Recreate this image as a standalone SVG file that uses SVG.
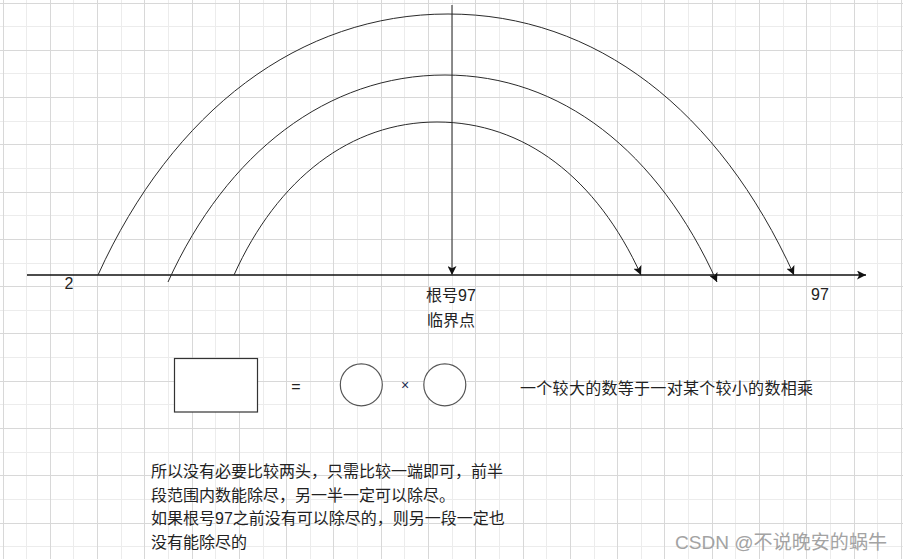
<svg xmlns="http://www.w3.org/2000/svg" width="903" height="559" viewBox="0 0 903 559">
<style>
.gd{stroke:#d8d8d8;stroke-width:1;fill:none}
.gl{stroke:#ececec;stroke-width:1;fill:none}
.t{font-family:"Liberation Sans","Noto Sans CJK SC",sans-serif;font-size:16px;fill:#222}
.arc{fill:none;stroke:#2a2a2a;stroke-width:1}
.ax{fill:none;stroke:#111;stroke-width:1.5}
.vx{fill:none;stroke:#444;stroke-width:1.2}
.shape{fill:#fff;stroke:#333;stroke-width:1.2}
.circ{fill:#fff;stroke:#555;stroke-width:1.2}
</style>
<defs>
<marker id="arr" viewBox="0 0 10 10" refX="10" refY="5" markerWidth="9" markerHeight="9" markerUnits="userSpaceOnUse" orient="auto">
<path d="M0,0 L10,5 L0,10 L2.5,5 Z" fill="#111"/>
</marker>
</defs>
<rect width="903" height="559" fill="#fff"/>
<g id="grid" shape-rendering="crispEdges">
<path class="gl" d="M26.64,0V559M73.92,0V559M121.2,0V559M168.48,0V559M215.76,0V559M263.04,0V559M310.32,0V559M357.6,0V559M404.88,0V559M452.16,0V559M499.44,0V559M546.72,0V559M594,0V559M641.28,0V559M688.56,0V559M735.84,0V559M783.12,0V559M830.4,0V559M877.68,0V559
M0,26.64H903M0,73.92H903M0,121.2H903M0,168.48H903M0,215.76H903M0,263.04H903M0,310.32H903M0,357.6H903M0,404.88H903M0,452.16H903M0,499.44H903M0,546.72H903"/>
<path class="gd" d="M3,0V559M50.28,0V559M97.56,0V559M144.84,0V559M192.12,0V559M239.4,0V559M286.68,0V559M333.96,0V559M381.24,0V559M428.52,0V559M475.8,0V559M523.08,0V559M570.36,0V559M617.64,0V559M664.92,0V559M712.2,0V559M759.48,0V559M806.76,0V559M854.04,0V559M901.32,0V559
M0,3H903M0,50.28H903M0,97.56H903M0,144.84H903M0,192.12H903M0,239.4H903M0,286.68H903M0,333.96H903M0,381.24H903M0,428.52H903M0,475.8H903M0,523.08H903"/>
</g>
<g id="connectors">
<path class="ax" d="M27,275 H866" marker-end="url(#arr)"/>
<path class="vx" d="M452,5 V275" marker-end="url(#arr)"/>
<path class="arc" d="M98,275 C173,110 300,14 448,14 C596,14 719,110 794,275" marker-end="url(#arr)"/>
<path class="arc" d="M168,282 C227,152 328,75 445,75 C561,75 658,151 717,282" marker-end="url(#arr)"/>
<path class="arc" d="M234,275 C277.5,178.3 351,122 437,122 C524,122 597,178 641,275" marker-end="url(#arr)"/>
</g>
<g id="label-2"><text class="t" x="69" y="289" text-anchor="middle">2</text></g>
<g id="label-root"><text class="t" x="451" y="301" text-anchor="middle">根号97</text><text class="t" x="451" y="326" text-anchor="middle">临界点</text></g>
<g id="label-97"><text class="t" x="820" y="300" text-anchor="middle">97</text></g>
<g id="big-rect"><rect class="shape" x="174.5" y="358.5" width="83" height="53.5"/></g>
<g id="eq"><text class="t" x="296" y="392" text-anchor="middle">=</text></g>
<g id="circle-1"><circle class="circ" cx="361.3" cy="384.8" r="21"/></g>
<g id="times"><text class="t" x="405" y="390" text-anchor="middle" style="font-size:14px;fill:#1c2a50">×</text></g>
<g id="circle-2"><circle class="circ" cx="444.8" cy="384.8" r="21"/></g>
<g id="desc"><text class="t" x="520" y="394" textLength="293" lengthAdjust="spacing">一个较大的数等于一对某个较小的数相乘</text></g>
<g id="note">
<text class="t" x="151" y="477">所以没有必要比较两头，只需比较一端即可，前半</text>
<text class="t" x="151" y="500.5">段范围内数能除尽，另一半一定可以除尽。</text>
<text class="t" x="151" y="524">如果根号97之前没有可以除尽的，则另一段一定也</text>
<text class="t" x="151" y="547.5">没有能除尽的</text>
</g>
<g id="watermark"><text x="675" y="549" textLength="212" lengthAdjust="spacingAndGlyphs" style="font-family:'Liberation Sans','Noto Sans CJK SC',sans-serif;font-size:19px;fill:#a3a3a3">CSDN @不说晚安的蜗牛</text></g>
</svg>
